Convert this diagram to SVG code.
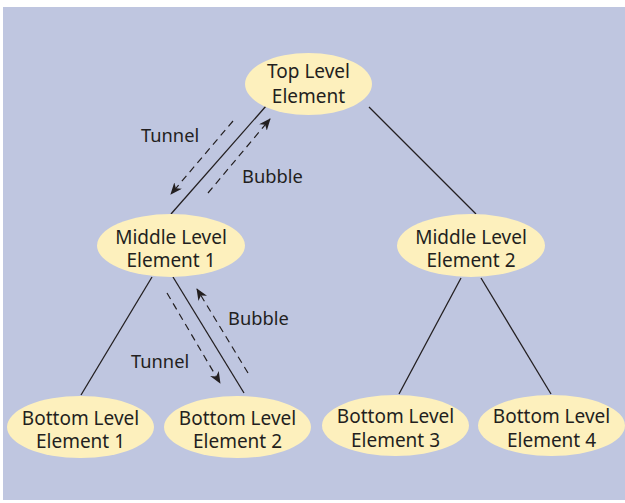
<svg xmlns="http://www.w3.org/2000/svg" width="625" height="503" viewBox="0 0 625 503">
<style>
.node{fill:#fdf0bd;stroke:none}
.t{font-family:"Noto Sans","Open Sans",sans-serif;font-size:19px;fill:#231f20;text-anchor:middle}
.lbl{font-family:"Noto Sans","Open Sans",sans-serif;font-size:18.3px;fill:#231f20}
.edge{stroke:#231f20;stroke-width:1.3;fill:none}
.flow{stroke:#231f20;stroke-width:1.2;fill:none;stroke-dasharray:7 5;marker-end:url(#ah)}
</style>
<defs>
<marker id="ah" viewBox="0 0 12 10" refX="11" refY="5" markerWidth="12" markerHeight="10" markerUnits="userSpaceOnUse" orient="auto">
<path d="M0,0 L12,5 L0,10 L3.5,5 Z" fill="#231f20"/>
</marker>
</defs>
<rect x="3" y="7" width="622" height="493" fill="#bfc6e0"/>
<g id="connectors">
<line class="edge" x1="266" y1="106" x2="171" y2="214"/>
<line class="edge" x1="369" y1="107" x2="476" y2="214"/>
<line class="edge" x1="152" y1="277" x2="81" y2="395"/>
<line class="edge" x1="173" y1="277" x2="244" y2="393"/>
<line class="edge" x1="461" y1="278" x2="399" y2="394"/>
<line class="edge" x1="481" y1="278" x2="551" y2="394"/>
<line class="flow" x1="233" y1="121" x2="171" y2="194"/>
<line class="flow" x1="208" y1="193" x2="270" y2="119"/>
<line class="flow" x1="248" y1="373" x2="197" y2="289"/>
<line class="flow" x1="167" y1="293" x2="220" y2="383"/>
<text class="lbl" x="141" y="142">Tunnel</text>
<text class="lbl" x="242" y="183">Bubble</text>
<text class="lbl" x="228" y="325">Bubble</text>
<text class="lbl" x="131" y="368">Tunnel</text>
</g>
<g id="top">
<ellipse class="node" cx="308.5" cy="84" rx="63.5" ry="31"/>
<text class="t" x="308.5" y="78">Top Level</text>
<text class="t" x="308.5" y="103">Element</text>
</g>
<g id="mid1">
<ellipse class="node" cx="171" cy="245.5" rx="74" ry="31.5"/>
<text class="t" x="171" y="244">Middle Level</text>
<text class="t" x="171" y="267">Element 1</text>
</g>
<g id="mid2">
<ellipse class="node" cx="471" cy="245.5" rx="74" ry="31.5"/>
<text class="t" x="471" y="244">Middle Level</text>
<text class="t" x="471" y="267">Element 2</text>
</g>
<g id="bot1">
<ellipse class="node" cx="80.5" cy="427" rx="73.5" ry="31"/>
<text class="t" x="80.5" y="425">Bottom Level</text>
<text class="t" x="80.5" y="448">Element 1</text>
</g>
<g id="bot2">
<ellipse class="node" cx="237.5" cy="427" rx="73.5" ry="31"/>
<text class="t" x="237.5" y="425">Bottom Level</text>
<text class="t" x="237.5" y="448">Element 2</text>
</g>
<g id="bot3">
<ellipse class="node" cx="395.5" cy="425.5" rx="73.5" ry="30.5"/>
<text class="t" x="395.5" y="423">Bottom Level</text>
<text class="t" x="395.5" y="447">Element 3</text>
</g>
<g id="bot4">
<ellipse class="node" cx="551.5" cy="425.5" rx="73.5" ry="30.5"/>
<text class="t" x="551.5" y="423">Bottom Level</text>
<text class="t" x="551.5" y="447">Element 4</text>
</g>
</svg>
